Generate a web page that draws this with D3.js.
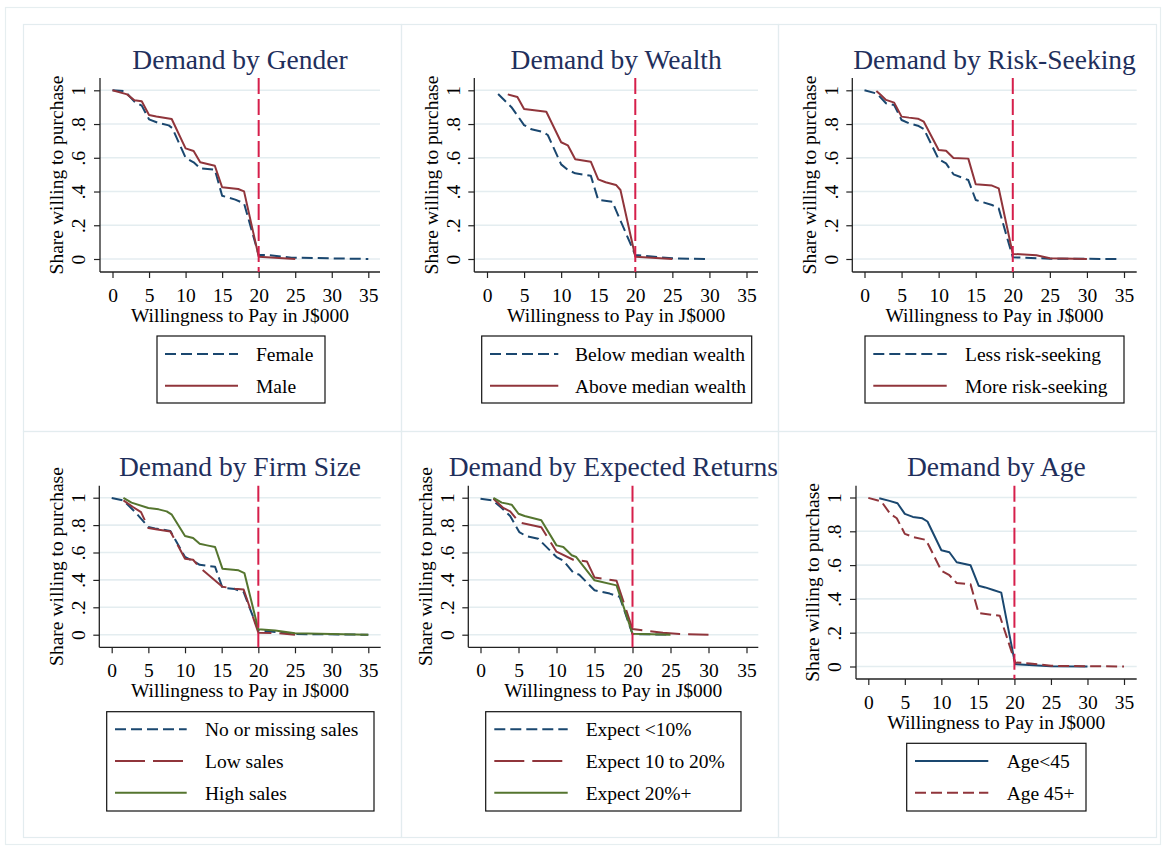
<!DOCTYPE html>
<html>
<head>
<meta charset="utf-8">
<script src="https://cdn.jsdelivr.net/npm/d3@7"></script>
<style>
  html, body { margin: 0; padding: 0; background: #fff; }
  svg { display: block; font-family: "Liberation Serif", "Times New Roman", serif; }
</style>
</head>
<body>
<svg id="chart" width="1166" height="851"></svg>
<script>
// ---------------- DATA ----------------
const panelTitles = ["Demand by Gender", "Demand by Wealth", "Demand by Risk-Seeking",
                     "Demand by Firm Size", "Demand by Expected Returns", "Demand by Age"];
const xTickValues = [0, 5, 10, 15, 20, 25, 30, 35];
const yTickValues = [0, 0.2, 0.4, 0.6, 0.8, 1];
const yTickLabels = ["0", ".2", ".4", ".6", ".8", "1"];
const xAxisTitle = "Willingness to Pay in J$000";
const yAxisTitle = "Share willing to purchase";
const thresholdValue = 20;

const genderLabels = ["Female", "Male"];
const genderFemale = [[0,1.0],[1.6,0.995],[2,0.98],[3,0.933],[4,0.909],[5,0.828],[6.3,0.806],[7.7,0.792],[8.2,0.775],[10,0.60],[11.1,0.573],[12,0.537],[14,0.53],[15,0.375],[16.8,0.352],[18,0.33],[20,0.024],[21.1,0.024],[24.5,0.008],[35,0.0]];
const genderMale = [[0,1.0],[2,0.976],[3,0.941],[4,0.935],[5,0.854],[6,0.845],[8.1,0.83],[10,0.656],[11.1,0.64],[12,0.573],[14,0.553],[15,0.425],[17.2,0.415],[18,0.401],[20,0.014],[25,0.0]];

const wealthLabels = ["Below median wealth", "Above median wealth"];
const wealthBelow = [[1.5,0.978],[3.3,0.90],[5,0.794],[6,0.769],[7.6,0.752],[8.2,0.735],[10,0.561],[10.9,0.528],[11.9,0.508],[14,0.494],[15,0.35],[16.9,0.34],[20,0.024],[25,0.004],[29.4,0.0]];
const wealthAbove = [[2.8,0.976],[4.1,0.96],[5,0.889],[8,0.873],[10,0.692],[10.9,0.674],[11.9,0.591],[14,0.577],[15,0.472],[16,0.455],[17.4,0.439],[18,0.409],[20,0.014],[25,0.0]];

const riskLabels = ["Less risk-seeking", "More risk-seeking"];
const riskLess = [[0,1.0],[1.7,0.98],[2.9,0.923],[4,0.913],[5,0.824],[6,0.804],[7.2,0.79],[8,0.771],[10,0.591],[11,0.567],[12,0.502],[14,0.468],[15,0.35],[17.2,0.32],[18.1,0.30],[20,0.01],[25,0.002],[34.5,0.0]];
const riskMore = [[1.6,0.996],[2.1,0.976],[2.9,0.943],[4,0.927],[5,0.844],[6,0.838],[7.2,0.832],[8,0.814],[10,0.646],[11,0.642],[12,0.599],[14,0.595],[15,0.443],[17.2,0.435],[18.1,0.419],[20,0.03],[23.2,0.022],[25,0.004],[30,0.0]];

const sizeLabels = ["No or missing sales", "Low sales", "High sales"];
const sizeNone = [[0,0.998],[1.6,0.98],[3.2,0.895],[5,0.786],[5.9,0.776],[8,0.757],[10,0.567],[11.4,0.53],[12,0.51],[14.1,0.496],[15.1,0.343],[16.8,0.333],[18,0.31],[20,0.032],[25,0.005],[35,0.0]];
const sizeLow = [[1.6,0.98],[2.9,0.932],[4,0.895],[5,0.779],[6,0.77],[8,0.754],[10,0.555],[11.1,0.547],[12,0.491],[15.1,0.35],[16.8,0.336],[18,0.33],[20,0.015],[22.7,0.012],[25,0.0]];
const sizeHigh = [[1.6,0.998],[2.7,0.964],[5,0.925],[6.4,0.915],[7.5,0.90],[8.2,0.876],[10,0.72],[11.1,0.706],[12,0.664],[13,0.652],[14.1,0.64],[15.1,0.482],[17.3,0.47],[18.1,0.45],[20,0.039],[22.3,0.031],[25,0.01],[35,0.0]];

const returnsLabels = ["Expect <10%", "Expect 10 to 20%", "Expect 20%+"];
const returnsLow = [[0,0.993],[1.6,0.98],[2.8,0.925],[3.9,0.866],[5.1,0.749],[6,0.72],[7.6,0.70],[10,0.567],[10.9,0.54],[12.2,0.453],[13,0.438],[15,0.324],[17,0.30],[18.3,0.277],[20,0.005],[25,0.0]];
const returnsMid = [[1.7,0.993],[3,0.925],[3.9,0.90],[5.1,0.82],[8,0.784],[10,0.606],[12.2,0.547],[14,0.535],[15,0.418],[17.9,0.394],[20,0.041],[24,0.015],[26.2,0.005],[30,0.0]];
const returnsHigh = [[1.7,0.998],[2.8,0.964],[4.1,0.949],[5,0.883],[5.8,0.866],[8,0.835],[10,0.652],[10.9,0.64],[12,0.58],[12.6,0.567],[15,0.397],[17.9,0.36],[20,0.007],[25,0.0]];

const ageLabels = ["Age<45", "Age 45+"];
const ageYoung = [[1.5,0.996],[2.9,0.98],[4,0.966],[5,0.903],[6.1,0.885],[7.4,0.877],[8.1,0.858],[10,0.688],[11.1,0.676],[12.1,0.617],[14,0.599],[15.1,0.478],[16,0.468],[17.1,0.453],[18.2,0.437],[20.1,0.014],[25,0.002],[30,0.0]];
const ageOld = [[0,0.998],[1.8,0.976],[3,0.903],[3.9,0.877],[5,0.785],[6.2,0.765],[7.9,0.749],[10,0.567],[11.1,0.54],[12.1,0.494],[14,0.486],[15.1,0.316],[18,0.30],[20.1,0.024],[22.1,0.018],[25,0.004],[35,0.0]];

// ---------------- STYLES ----------------
const BLUE = "#1a476f", RED = "#90353b", GREEN = "#55752f", VLINE = "#d61f4b";
const DASH = "11,5", LONGDASH = "30,8", SOLID = null;

const panels = [
  { title: panelTitles[0], series: [
      { data: genderFemale, label: genderLabels[0], color: BLUE, dash: DASH },
      { data: genderMale,   label: genderLabels[1], color: RED,  dash: SOLID } ] },
  { title: panelTitles[1], series: [
      { data: wealthBelow, label: wealthLabels[0], color: BLUE, dash: DASH },
      { data: wealthAbove, label: wealthLabels[1], color: RED,  dash: SOLID } ] },
  { title: panelTitles[2], series: [
      { data: riskLess, label: riskLabels[0], color: BLUE, dash: DASH },
      { data: riskMore, label: riskLabels[1], color: RED,  dash: SOLID } ] },
  { title: panelTitles[3], series: [
      { data: sizeNone, label: sizeLabels[0], color: BLUE,  dash: DASH },
      { data: sizeLow,  label: sizeLabels[1], color: RED,   dash: LONGDASH },
      { data: sizeHigh, label: sizeLabels[2], color: GREEN, dash: SOLID } ] },
  { title: panelTitles[4], series: [
      { data: returnsLow,  label: returnsLabels[0], color: BLUE,  dash: DASH },
      { data: returnsMid,  label: returnsLabels[1], color: RED,   dash: LONGDASH },
      { data: returnsHigh, label: returnsLabels[2], color: GREEN, dash: SOLID } ] },
  { title: panelTitles[5], series: [
      { data: ageYoung, label: ageLabels[0], color: BLUE, dash: SOLID },
      { data: ageOld,   label: ageLabels[1], color: RED,  dash: DASH } ] }
];

// pixel layout of each panel (axis line x, right edge, top, bottom, x range, y range, legend box)
const layouts = [
  { ax: 100,   right: 380,   top: 78,    bottom: 272,   x0: 112.5, x35: 368.3, y1: 90.3,  y0: 259,   titleY: 69,
    lg: { x1: 157,   x2: 325,  y1: 336,   y2: 403, lineX1: 165,   lineX2: 238,   textX: 256,   rowY: 354 } },
  { ax: 474.3, right: 758,   top: 78,    bottom: 272,   x0: 487,   x35: 746.5, y1: 90.3,  y0: 259,   titleY: 69,
    lg: { x1: 481.7, x2: 751.7, y1: 336,  y2: 403, lineX1: 490,   lineX2: 558.3, textX: 575,   rowY: 354 } },
  { ax: 852.3, right: 1136.7, top: 78,   bottom: 272,   x0: 864.5, x35: 1124,  y1: 90.3,  y0: 259,   titleY: 69,
    lg: { x1: 865,   x2: 1124, y1: 336,   y2: 403, lineX1: 873.3, lineX2: 946.7, textX: 965,   rowY: 354 } },
  { ax: 99.3,  right: 380.7, top: 485.7, bottom: 647.3, x0: 111.7, x35: 368.3, y1: 497.7, y0: 634.7, titleY: 475.7,
    lg: { x1: 106.7, x2: 374,  y1: 711.7, y2: 811, lineX1: 115,   lineX2: 186.7, textX: 205,   rowY: 729.3 } },
  { ax: 468.3, right: 758.3, top: 485.7, bottom: 647.3, x0: 480.5, x35: 746.5, y1: 497.7, y0: 634.7, titleY: 475.7,
    lg: { x1: 485.7, x2: 741,  y1: 711.7, y2: 811, lineX1: 494.3, lineX2: 567.7, textX: 585.7, rowY: 729.3 } },
  { ax: 856,   right: 1136.7, top: 485.7, bottom: 679,  x0: 868.3, x35: 1124,  y1: 497.5, y0: 666.5, titleY: 475.7,
    lg: { x1: 906.7, x2: 1086, y1: 743.3, y2: 811, lineX1: 915,   lineX2: 988.3, textX: 1006.7, rowY: 761 } }
];

const gridXs = [23, 401, 778, 1156];
const gridYs = [24, 431, 837];

// ---------------- DRAW ----------------
const svg = d3.select("#chart");
const FS = 19.5, TITLE_FS = 27.5, ROW_GAP = 31.7;

// outer figure border
svg.append("rect").attr("x", 5.5).attr("y", 7.5).attr("width", 1155).attr("height", 837)
  .attr("fill", "#fff").attr("stroke", "#e6eef0").attr("stroke-width", 1.2);

// panel borders
for (let r = 0; r < 2; r++) {
  for (let c = 0; c < 3; c++) {
    svg.append("rect")
      .attr("x", gridXs[c] + 0.5).attr("y", gridYs[r] + 0.5)
      .attr("width", gridXs[c + 1] - gridXs[c]).attr("height", gridYs[r + 1] - gridYs[r])
      .attr("fill", "none").attr("stroke", "#e3ecef").attr("stroke-width", 1.2);
  }
}

panels.forEach((p, i) => {
  const L = layouts[i];
  const g = svg.append("g");
  const x = d3.scaleLinear().domain([0, 35]).range([L.x0, L.x35]);
  const y = d3.scaleLinear().domain([0, 1]).range([L.y0, L.y1]);

  // gridlines
  g.selectAll(".grid").data(yTickValues).enter().append("line")
    .attr("x1", L.ax).attr("x2", L.right)
    .attr("y1", d => y(d)).attr("y2", d => y(d))
    .attr("stroke", "#e4edf0").attr("stroke-width", 1.6);

  // x axis
  const xAxis = d3.axisBottom(x).tickValues(xTickValues).tickFormat(d3.format("d"))
    .tickSize(6).tickSizeOuter(0);
  const xg = g.append("g").attr("transform", `translate(0,${L.bottom})`).call(xAxis);
  xg.select(".domain").remove();
  xg.selectAll(".tick line").attr("stroke", "#222").attr("stroke-width", 1.2);
  xg.selectAll(".tick text").attr("y", 23).attr("dy", "0.35em")
    .attr("font-size", FS).attr("font-family", "Liberation Serif, Times New Roman, serif").attr("fill", "#000");

  // y axis
  const yAxis = d3.axisLeft(y).tickValues(yTickValues)
    .tickFormat((d, k) => yTickLabels[k]).tickSize(6).tickSizeOuter(0);
  const yg = g.append("g").attr("transform", `translate(${L.ax},0)`).call(yAxis);
  yg.select(".domain").remove();
  yg.selectAll(".tick line").attr("stroke", "#222").attr("stroke-width", 1.2);
  yg.selectAll(".tick text")
    .attr("x", 0).attr("y", -21.5).attr("dy", "0.35em")
    .attr("transform", "rotate(-90)").attr("text-anchor", "middle")
    .attr("font-size", FS).attr("font-family", "Liberation Serif, Times New Roman, serif").attr("fill", "#000");

  // axis lines
  g.append("line").attr("x1", L.ax).attr("x2", L.ax).attr("y1", L.top).attr("y2", L.bottom)
    .attr("stroke", "#222").attr("stroke-width", 1.3);
  g.append("line").attr("x1", L.ax).attr("x2", L.right).attr("y1", L.bottom).attr("y2", L.bottom)
    .attr("stroke", "#222").attr("stroke-width", 1.3);

  // axis titles
  g.append("text").attr("x", (L.ax + L.right) / 2).attr("y", L.bottom + 43).attr("dy", "0.35em")
    .attr("text-anchor", "middle").attr("font-size", FS).attr("fill", "#000").text(xAxisTitle);
  g.append("text")
    .attr("transform", `translate(${L.ax - 43.5},${(L.top + L.bottom) / 2}) rotate(-90)`)
    .attr("dy", "0.35em").attr("text-anchor", "middle").attr("font-size", FS).attr("fill", "#000")
    .text(yAxisTitle);

  // title
  g.append("text").attr("x", (L.ax + L.right) / 2).attr("y", L.titleY)
    .attr("text-anchor", "middle").attr("font-size", TITLE_FS).attr("fill", "#1f2f5c").text(p.title);

  // series
  const line = d3.line().x(d => x(d[0])).y(d => y(d[1]));
  p.series.forEach(s => {
    g.append("path").datum(s.data).attr("d", line)
      .attr("fill", "none").attr("stroke", s.color).attr("stroke-width", 2)
      .attr("stroke-linejoin", "round")
      .attr("stroke-dasharray", s.dash);
  });

  // threshold vertical line
  g.append("line").attr("x1", x(thresholdValue)).attr("x2", x(thresholdValue))
    .attr("y1", L.top).attr("y2", L.bottom)
    .attr("stroke", VLINE).attr("stroke-width", 2).attr("stroke-dasharray", "16,5");

  // legend
  const lg = L.lg;
  g.append("rect").attr("x", lg.x1).attr("y", lg.y1).attr("width", lg.x2 - lg.x1).attr("height", lg.y2 - lg.y1)
    .attr("fill", "#fff").attr("stroke", "#111").attr("stroke-width", 1.2);
  p.series.forEach((s, k) => {
    const ry = lg.rowY + k * ROW_GAP;
    g.append("line").attr("x1", lg.lineX1).attr("x2", lg.lineX2).attr("y1", ry).attr("y2", ry)
      .attr("stroke", s.color).attr("stroke-width", 2).attr("stroke-dasharray", s.dash);
    g.append("text").attr("x", lg.textX).attr("y", ry).attr("dy", "0.35em")
      .attr("font-size", FS).attr("fill", "#000").text(s.label);
  });
});
</script>
</body>
</html>
